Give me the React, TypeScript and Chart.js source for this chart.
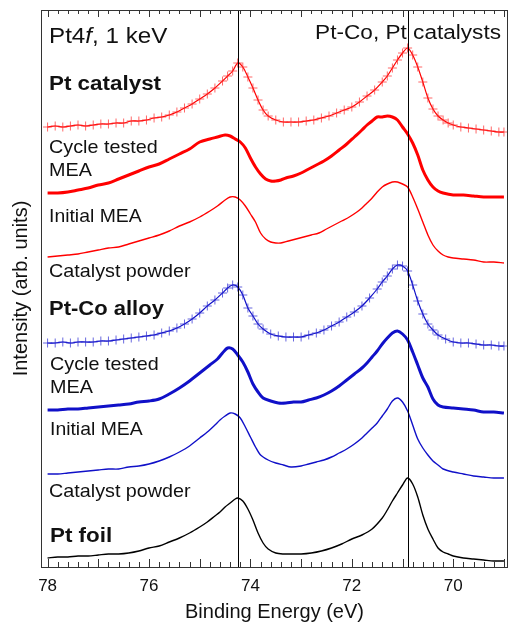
import { useEffect, useRef } from "react";
import { Chart, registerables } from "chart.js";

Chart.register(...registerables);

const FONT = '"Liberation Sans", Arial, Helvetica, sans-serif';

// Pt 4f spectra, binding energy (eV) vs. intensity (arb. units, stacked offsets)
const ptCatalystEnergy = [78.0, 77.85, 77.7, 77.55, 77.4, 77.25, 77.1, 76.95, 76.8, 76.65, 76.5, 76.35, 76.2, 76.05, 75.9, 75.75, 75.6, 75.45, 75.3, 75.15, 75.0, 74.85, 74.7, 74.55, 74.45, 74.35, 74.25, 74.15, 74.05, 73.95, 73.85, 73.75, 73.65, 73.5, 73.35, 73.2, 73.05, 72.9, 72.75, 72.6, 72.45, 72.3, 72.15, 72.0, 71.85, 71.7, 71.55, 71.4, 71.3, 71.2, 71.1, 71.0, 70.9, 70.8, 70.7, 70.6, 70.5, 70.4, 70.3, 70.2, 70.1, 70.0, 69.85, 69.7, 69.55, 69.4, 69.25, 69.1, 69.0];
const ptCatalystIntensity = [440, 441, 440, 441, 442, 441, 442, 443, 443, 444, 444, 446, 446, 447, 449, 450, 452, 455, 459, 463, 468, 473, 479, 486, 491, 496, 504, 500, 490, 479, 467, 457, 451, 447, 445, 445, 445, 446, 447, 449, 451, 454, 457, 460, 465, 471, 477, 485, 491, 499, 507, 514, 519, 512, 500, 485, 469, 458, 451, 447, 444, 442, 440, 439, 438, 437, 436, 435, 435];

const ptCycledEnergy = [78.0, 77.8, 77.6, 77.4, 77.2, 77.0, 76.8, 76.6, 76.4, 76.2, 76.0, 75.8, 75.6, 75.4, 75.2, 75.0, 74.8, 74.65, 74.5, 74.4, 74.3, 74.2, 74.1, 74.0, 73.9, 73.8, 73.7, 73.6, 73.5, 73.4, 73.3, 73.15, 73.0, 72.85, 72.7, 72.55, 72.4, 72.25, 72.1, 71.95, 71.8, 71.7, 71.6, 71.5, 71.4, 71.3, 71.2, 71.1, 71.0, 70.9, 70.8, 70.7, 70.6, 70.5, 70.4, 70.3, 70.2, 70.0, 69.8, 69.6, 69.4, 69.2, 69.0];
const ptCycledIntensity = [374, 374, 375, 377, 379, 382, 384, 388, 392, 396, 400, 403, 408, 413, 418, 425, 428, 430, 432, 431, 428, 425, 419, 409, 400, 393, 388, 386, 386, 387, 389, 391, 394, 398, 402, 406, 411, 417, 423, 430, 437, 442, 446, 450, 450, 451, 450, 447, 440, 433, 424, 412, 397, 387, 380, 376, 374, 372, 372, 371, 370, 370, 370];

const ptInitialEnergy = [78.0, 77.8, 77.6, 77.4, 77.2, 77.0, 76.8, 76.6, 76.4, 76.2, 76.0, 75.8, 75.6, 75.4, 75.2, 75.0, 74.8, 74.65, 74.5, 74.4, 74.3, 74.2, 74.1, 74.0, 73.9, 73.8, 73.7, 73.6, 73.5, 73.4, 73.25, 73.1, 72.95, 72.8, 72.65, 72.5, 72.35, 72.2, 72.05, 71.9, 71.8, 71.7, 71.6, 71.5, 71.4, 71.3, 71.2, 71.1, 71.0, 70.9, 70.8, 70.7, 70.6, 70.5, 70.4, 70.3, 70.2, 70.1, 70.0, 69.8, 69.6, 69.4, 69.2, 69.0];
const ptInitialIntensity = [310, 311, 312, 313, 315, 317, 319, 320, 323, 326, 329, 332, 336, 341, 345, 350, 356, 361, 367, 370, 370, 367, 361, 353, 345, 334, 328, 325, 324, 324, 326, 328, 330, 332, 334, 338, 342, 346, 350, 355, 359, 364, 369, 375, 380, 383, 385, 385, 383, 380, 370, 358, 345, 332, 322, 316, 312, 310, 309, 308, 307, 305, 305, 304];

const ptCoAlloyEnergy = [78.0, 77.85, 77.7, 77.55, 77.4, 77.25, 77.1, 76.95, 76.8, 76.65, 76.5, 76.35, 76.2, 76.05, 75.9, 75.75, 75.6, 75.45, 75.3, 75.15, 75.0, 74.85, 74.7, 74.55, 74.45, 74.35, 74.25, 74.15, 74.05, 73.95, 73.85, 73.75, 73.6, 73.45, 73.3, 73.15, 73.0, 72.85, 72.7, 72.55, 72.4, 72.25, 72.1, 71.95, 71.8, 71.65, 71.5, 71.4, 71.3, 71.2, 71.1, 71.0, 70.9, 70.8, 70.7, 70.6, 70.5, 70.4, 70.3, 70.15, 70.0, 69.85, 69.7, 69.55, 69.4, 69.25, 69.1, 69.0];
const ptCoAlloyIntensity = [224, 224, 225, 224, 225, 225, 225, 226, 226, 227, 228, 229, 230, 231, 232, 234, 236, 239, 243, 248, 254, 261, 267, 274, 279, 282, 280, 272, 259, 251, 243, 238, 233, 231, 230, 230, 230, 232, 234, 237, 241, 245, 250, 255, 261, 269, 278, 285, 291, 298, 302, 301, 296, 282, 266, 253, 243, 237, 232, 228, 225, 224, 224, 223, 222, 222, 221, 221];

const ptCoCycledEnergy = [78.0, 77.8, 77.6, 77.4, 77.2, 77.0, 76.8, 76.6, 76.4, 76.2, 76.0, 75.8, 75.6, 75.4, 75.2, 75.0, 74.8, 74.65, 74.55, 74.45, 74.35, 74.25, 74.15, 74.05, 73.95, 73.85, 73.75, 73.6, 73.45, 73.3, 73.15, 73.0, 72.85, 72.7, 72.55, 72.4, 72.25, 72.1, 71.95, 71.8, 71.7, 71.6, 71.5, 71.4, 71.3, 71.2, 71.1, 71.0, 70.9, 70.8, 70.7, 70.6, 70.5, 70.4, 70.3, 70.2, 70.0, 69.8, 69.6, 69.4, 69.2, 69.0];
const ptCoCycledIntensity = [157, 157, 158, 158, 159, 160, 161, 162, 163, 165, 166, 168, 173, 179, 186, 194, 202, 208, 214, 219, 218, 212, 205, 195, 183, 175, 169, 166, 164, 164, 165, 165, 167, 169, 172, 176, 181, 187, 193, 199, 204, 210, 216, 223, 229, 234, 236, 233, 227, 215, 202, 189, 180, 168, 162, 160, 159, 158, 157, 155, 155, 154];

const ptCoInitialEnergy = [78.0, 77.8, 77.6, 77.4, 77.2, 77.0, 76.8, 76.6, 76.4, 76.2, 76.0, 75.8, 75.6, 75.4, 75.2, 75.0, 74.85, 74.7, 74.6, 74.5, 74.4, 74.3, 74.2, 74.1, 74.0, 73.9, 73.8, 73.65, 73.5, 73.35, 73.2, 73.0, 72.85, 72.7, 72.55, 72.4, 72.25, 72.1, 71.95, 71.8, 71.7, 71.6, 71.5, 71.4, 71.3, 71.2, 71.1, 71.0, 70.9, 70.8, 70.7, 70.6, 70.5, 70.4, 70.3, 70.2, 70.0, 69.8, 69.6, 69.4, 69.2, 69.0];
const ptCoInitialIntensity = [93, 93, 94, 95, 96, 97, 98, 98, 100, 101, 103, 106, 110, 115, 121, 129, 135, 142, 147, 151, 154, 153, 149, 140, 130, 120, 112, 107, 104, 102, 100, 101, 103, 105, 107, 110, 114, 118, 123, 129, 134, 139, 144, 151, 158, 166, 169, 165, 156, 142, 128, 119, 112, 106, 102, 98, 95, 93, 91, 90, 89, 89];

const ptFoilEnergy = [78.0, 77.8, 77.6, 77.4, 77.2, 77.0, 76.8, 76.6, 76.4, 76.2, 76.0, 75.8, 75.6, 75.4, 75.2, 75.0, 74.85, 74.7, 74.6, 74.5, 74.4, 74.3, 74.25, 74.15, 74.05, 73.95, 73.85, 73.75, 73.65, 73.5, 73.35, 73.2, 73.0, 72.8, 72.6, 72.4, 72.2, 72.0, 71.8, 71.6, 71.4, 71.3, 71.2, 71.1, 71.0, 70.9, 70.8, 70.7, 70.6, 70.5, 70.4, 70.3, 70.2, 70.1, 70.0, 69.8, 69.6, 69.4, 69.2, 69.0];
const ptFoilIntensity = [9, 10, 10, 11, 11, 12, 13, 13, 14, 16, 19, 21, 25, 29, 34, 40, 45, 51, 55, 60, 64, 68, 69, 66, 58, 47, 34, 24, 18, 14, 13, 13, 13, 14, 16, 19, 23, 28, 32, 38, 49, 57, 66, 74, 82, 89, 83, 70, 52, 38, 28, 19, 15, 13, 11, 9, 8, 7, 6, 6];

// Pt foil 4f5/2 and 4f7/2 reference positions (eV)
const referenceLines = [74.25, 70.9];
const xTickLabels = [78, 76, 74, 72, 70];

const RED = "#ff0000";
const BLUE = "#1010c8";

const pts = (e: number[], v: number[]) => e.map((x, i) => ({ x, y: v[i] }));

type Caption = { parts: { text: string; style?: string }[]; x: number; y: number; size: number; bold?: boolean; sx: number; align?: "left" | "right" };

const captions: Caption[] = [
  { parts: [{ text: "Pt4" }, { text: "f", style: "italic" }, { text: ", 1 keV" }], x: 49, y: 43, size: 22, sx: 1.1 },
  { parts: [{ text: "Pt-Co, Pt catalysts" }], x: 501, y: 39, size: 20, sx: 1.13, align: "right" },
  { parts: [{ text: "Pt catalyst" }], x: 49, y: 90, size: 20, bold: true, sx: 1.12 },
  { parts: [{ text: "Cycle tested" }], x: 49, y: 153, size: 19, sx: 1.04 },
  { parts: [{ text: "MEA" }], x: 49, y: 176, size: 19, sx: 1.04 },
  { parts: [{ text: "Initial MEA" }], x: 49, y: 222, size: 19, sx: 1.02 },
  { parts: [{ text: "Catalyst powder" }], x: 49, y: 277, size: 19, sx: 1.04 },
  { parts: [{ text: "Pt-Co alloy" }], x: 49, y: 315, size: 20, bold: true, sx: 1.1 },
  { parts: [{ text: "Cycle tested" }], x: 50, y: 370, size: 19, sx: 1.04 },
  { parts: [{ text: "MEA" }], x: 50, y: 393, size: 19, sx: 1.04 },
  { parts: [{ text: "Initial MEA" }], x: 50, y: 435, size: 19, sx: 1.02 },
  { parts: [{ text: "Catalyst powder" }], x: 49, y: 497, size: 19, sx: 1.04 },
  { parts: [{ text: "Pt foil" }], x: 50, y: 542, size: 20, bold: true, sx: 1.12 },
];

const framePlugin = {
  id: "frame",
  afterDatasetsDraw(chart: any) {
    const { ctx, chartArea: a, scales } = chart;
    const xs = scales.x;
    ctx.save();
    ctx.strokeStyle = "#000";
    ctx.lineWidth = 1;
    for (const e of referenceLines) {
      const px = Math.round(xs.getPixelForValue(e)) + 0.5;
      ctx.beginPath();
      ctx.moveTo(px, a.top);
      ctx.lineTo(px, a.bottom);
      ctx.stroke();
    }
    ctx.strokeStyle = "#333";
    ctx.strokeRect(Math.round(a.left) + 0.5, Math.round(a.top) + 0.5, Math.round(a.right - a.left) - 1, Math.round(a.bottom - a.top));
    // inward ticks, major every 1 eV, minor every 0.2 eV
    for (let i = 345; i <= 390; i++) {
      const e = i / 5;
      if (e < xs.min || e > xs.max) continue;
      const major = i % 5 === 0;
      const len = major ? 7 : 4;
      const px = Math.round(xs.getPixelForValue(e)) + 0.5;
      ctx.beginPath();
      ctx.moveTo(px, a.top);
      ctx.lineTo(px, a.top + len);
      ctx.moveTo(px, a.bottom);
      ctx.lineTo(px, a.bottom - len - 1);
      ctx.stroke();
    }
    ctx.restore();
  },
  afterDraw(chart: any) {
    const { ctx } = chart;
    ctx.save();
    ctx.fillStyle = "#111";
    ctx.textBaseline = "alphabetic";
    ctx.textAlign = "left";
    for (const c of captions) {
      const fontOf = (style?: string) => `${style === "italic" ? "italic " : ""}${c.bold ? "bold " : ""}${c.size}px ${FONT}`;
      let total = 0;
      for (const p of c.parts) {
        ctx.font = fontOf(p.style);
        total += ctx.measureText(p.text).width;
      }
      const startX = c.align === "right" ? c.x - total * c.sx : c.x;
      ctx.save();
      ctx.translate(startX, c.y);
      ctx.scale(c.sx, 1);
      let cx = 0;
      for (const p of c.parts) {
        ctx.font = fontOf(p.style);
        ctx.fillText(p.text, cx, 0);
        cx += ctx.measureText(p.text).width;
      }
      ctx.restore();
    }
    ctx.restore();
  },
};

export default function App() {
  const ref = useRef<HTMLCanvasElement | null>(null);

  useEffect(() => {
    document.body.style.margin = "0";
    const canvas = ref.current;
    if (!canvas) return;

    const crossSet = (label: string, e: number[], v: number[], color: string, marker: string) => ({
      label,
      data: pts(e, v),
      borderColor: color,
      borderWidth: 1.2,
      pointStyle: "cross",
      pointRadius: 4.5,
      pointBorderColor: marker,
      pointBorderWidth: 1,
      pointBackgroundColor: marker,
      tension: 0.3,
      fill: false,
    });
    const lineSet = (label: string, e: number[], v: number[], color: string, width: number) => ({
      label,
      data: pts(e, v),
      borderColor: color,
      borderWidth: width,
      pointRadius: 0,
      tension: 0.3,
      fill: false,
    });

    const chart = new Chart(canvas, {
      type: "line",
      data: {
        datasets: [
          crossSet("Pt catalyst", ptCatalystEnergy, ptCatalystIntensity, RED, "rgba(255,40,40,0.7)"),
          lineSet("Pt catalyst, cycle tested MEA", ptCycledEnergy, ptCycledIntensity, RED, 3),
          lineSet("Pt catalyst, initial MEA", ptInitialEnergy, ptInitialIntensity, RED, 1.4),
          crossSet("Pt-Co alloy", ptCoAlloyEnergy, ptCoAlloyIntensity, BLUE, "rgba(40,40,210,0.7)"),
          lineSet("Pt-Co, cycle tested MEA", ptCoCycledEnergy, ptCoCycledIntensity, BLUE, 3),
          lineSet("Pt-Co, initial MEA", ptCoInitialEnergy, ptCoInitialIntensity, BLUE, 1.4),
          lineSet("Pt foil", ptFoilEnergy, ptFoilIntensity, "#000", 1.4),
        ] as any,
      },
      options: {
        animation: false,
        responsive: false,
        maintainAspectRatio: false,
        events: [],
        layout: { autoPadding: false, padding: { top: 10, right: 1, left: 0, bottom: 0 } },
        plugins: { legend: { display: false }, tooltip: { enabled: false } },
        scales: {
          x: {
            type: "linear",
            min: 68.92,
            max: 78.13,
            reverse: true,
            grid: { display: false, drawTicks: false },
            border: { display: false },
            afterBuildTicks: (s: any) => {
              s.ticks = xTickLabels.map((value) => ({ value }));
            },
            ticks: {
              autoSkip: false,
              maxRotation: 0,
              padding: 9,
              color: "#111",
              font: { family: FONT, size: 17 },
              callback: (v: any) => String(v),
            },
            title: {
              display: true,
              text: "Binding Energy (eV)",
              color: "#111",
              font: { family: FONT, size: 20 },
              padding: { top: 0, bottom: 0 },
            },
            afterFit: (s: any) => {
              s.height = 57;
              s.paddingLeft = 0;
              s.paddingRight = 0;
            },
          },
          y: {
            min: 0,
            max: 557,
            grid: { display: false, drawTicks: false },
            border: { display: false },
            ticks: { display: false },
            title: {
              display: true,
              text: "Intensity (arb. units)",
              color: "#111",
              font: { family: FONT, size: 20 },
              padding: { top: 9, bottom: 0 },
            },
            afterFit: (s: any) => {
              s.width = 41;
              s.paddingTop = 0;
              s.paddingBottom = 0;
            },
          },
        },
      } as any,
      plugins: [framePlugin],
    });

    return () => chart.destroy();
  }, []);

  return (
    <div style={{ width: 509, height: 624 }}>
      <canvas ref={ref} width={509} height={624} style={{ display: "block" }} />
    </div>
  );
}
